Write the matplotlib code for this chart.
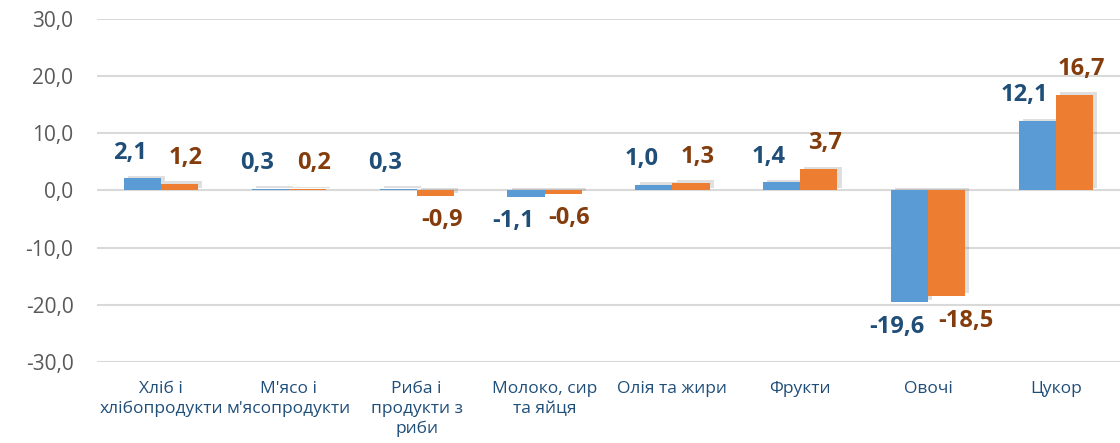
import matplotlib.pyplot as plt
import matplotlib.patheffects as pe
import numpy as np

plt.rcParams['font.family'] = ['Open Sans', 'DejaVu Sans']

categories = ["Хліб і\nхлібопродукти", "М'ясо і\nм'ясопродукти", "Риба і\nпродукти з\nриби",
              "Молоко, сир\nта яйця", "Олія та жири", "Фрукти", "Овочі", "Цукор"]
series_a = [2.1, 0.3, 0.3, -1.1, 1.0, 1.4, -19.6, 12.1]
series_b = [1.2, 0.2, -0.9, -0.6, 1.3, 3.7, -18.5, 16.7]
yticks = [-30, -20, -10, 0, 10, 20, 30]

fig = plt.figure(figsize=(11.2, 4.43), dpi=100)
ax = fig.add_axes([0.0866, 0.183, 0.9134, 0.774])

x = np.arange(len(categories))
w = 0.29
shadow = [pe.SimplePatchShadow(offset=(3, 2), shadow_rgbFace='gray', alpha=0.25), pe.Normal()]
bars_a = ax.bar(x - w / 2, series_a, w, color='#5B9BD5', zorder=3, path_effects=shadow)
bars_b = ax.bar(x + w / 2, series_b, w, color='#ED7D31', zorder=3, path_effects=shadow)

def fmt(v):
    return f"{v:.1f}".replace('.', ',')

for bars, vals, col, dx in [(bars_a, series_a, '#1F4E79', -0.1), (bars_b, series_b, '#843C0C', 0.05)]:
    for b, v in zip(bars, vals):
        cx = b.get_x() + b.get_width() / 2 + dx
        if v >= 0:
            ax.annotate(fmt(v), (cx, v), xytext=(0, 10), textcoords='offset points',
                        ha='center', va='bottom', fontsize=17, fontweight='bold', color=col)
        else:
            ax.annotate(fmt(v), (cx + (0.1 if bars is bars_b and v < -10 else 0), v),
                        xytext=(0, -9), textcoords='offset points',
                        ha='center', va='top', fontsize=17, fontweight='bold', color=col)

ax.set_xlim(-0.5, len(categories) - 0.5)
ax.set_ylim(-30, 30)
ax.set_yticks(yticks)
ax.set_yticklabels([fmt(t) for t in yticks], fontsize=15, color='#595959')
ax.set_xticks(x)
ax.set_xticklabels(categories, fontsize=12.5, color='#1F4E79', linespacing=1.3, va='top')
ax.tick_params(length=0)
ax.tick_params(axis='x', pad=14)
ax.tick_params(axis='y', pad=17)
ax.grid(axis='y', color='#D9D9D9', linewidth=1.5, zorder=0)
for s in ax.spines.values():
    s.set_visible(False)

fig.savefig('out.png', dpi=100)
